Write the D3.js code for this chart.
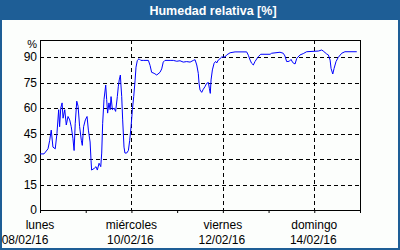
<!DOCTYPE html>
<html>
<head>
<meta charset="utf-8">
<script src="https://cdn.jsdelivr.net/npm/d3@7"></script>
<style>
  body { margin: 0; background: #fff; }
  svg { display: block; }
  text { font-family: "Liberation Sans", Arial, sans-serif; fill: #000; }
</style>
</head>
<body>
<div id="chart"></div>
<script>
// hours since 08/02/16 00:00 and relative humidity (%)
const hours = [0, 2.1, 4.2, 5.1, 5.9, 6.8, 8.0, 8.9, 9.8, 10.3, 10.9, 11.6, 12.1, 13.0, 13.8, 14.7, 15.6, 16.4, 17.3, 17.9,
  18.5, 19.3, 20.0, 20.8, 21.7, 22.2, 22.9, 23.8, 24.7, 25.4, 26.3, 26.8, 27.1, 28.5, 29.4, 30.1, 31.0, 31.9, 32.4, 32.9,
  33.6, 34.5, 35.0, 35.5, 36.2, 36.8, 37.3, 38.0, 38.9, 39.7, 40.6, 41.1, 41.6, 42.2, 42.5, 42.9, 43.4, 44.1, 44.6, 45.5,
  46.4, 47.1, 47.8, 48.5, 49.2, 49.9, 50.4, 51.1, 52.0, 52.9, 54.2, 56.9, 57.8, 58.6, 59.9, 61.3, 63.0, 63.9, 64.7, 65.6,
  68.3, 70.0, 71.8, 73.5, 75.2, 77.0, 78.8, 80.5, 81.4, 82.3, 83.1, 83.5, 84.0, 84.9, 85.7, 86.6, 87.5, 88.4, 88.9, 89.4,
  89.8, 90.5, 91.4, 92.2, 92.8, 93.6, 94.5, 95.4, 97.1, 98.0, 99.8, 102.4, 108.5, 109.4, 110.3, 111.1, 112.0, 112.9, 114.6, 115.9,
  120.8, 121.6, 126.0, 127.7, 128.6, 129.5, 130.9, 131.8, 132.7, 133.9, 134.8, 136.5, 138.2, 140.0, 146.1, 147.9, 148.7, 150.5, 151.4, 152.3,
  152.8, 153.7, 154.4, 155.4, 156.6, 158.4, 160.1, 166.3];
const humidity = [33, 33, 36, 41, 47, 37, 36, 45, 59, 49, 60, 63, 54, 59, 50, 55, 53, 49, 42, 35,
  51, 64, 61, 49, 41, 38, 49, 53, 55, 47, 40, 29, 23.5, 24.5, 25.5, 23.5, 27.5, 25.5, 33.5, 51,
  65, 73.5, 65, 57, 63, 59, 66.7, 59, 60, 58, 66.7, 72.5, 76.5, 79.4, 73.5, 66.7, 53, 37, 33.5, 33.5,
  35, 41, 49, 59, 66.7, 76, 84, 88, 89, 88, 88, 88, 85, 81, 80.4, 79.4, 81, 83, 87, 88,
  88, 88, 87.5, 87.8, 87, 87.3, 87, 88, 88.4, 85.3, 80.4, 74.5, 70.6, 69.2, 71, 72.5, 74.5, 75, 71.6, 68.6,
  76.5, 82.4, 86.3, 87.4, 86.5, 88.2, 89, 90, 90, 91.2, 92.5, 93, 93, 91, 88.2, 86.3, 85.3, 87.4, 90.2, 91.6,
  91.6, 92.2, 92.8, 92.2, 90.6, 87.3, 87.5, 88.6, 86.7, 85.9, 89.2, 91.2, 92, 93.1, 93.5, 94.1, 93.5, 91.8, 91.2, 88.2,
  83.3, 80, 83.3, 87.3, 89.8, 92.2, 93.1, 93.1];

const yTicks = [0, 15, 30, 45, 60, 75, 90];
const dayNames = ["lunes", "miércoles", "viernes", "domingo"];
const dateLabels = ["08/02/16", "10/02/16", "12/02/16", "14/02/16"];

const W = 400, H = 250;
const blue = "#1e5e96";
const start = new Date(2016, 1, 8);
const end = new Date(2016, 1, 15);
const toDate = h => new Date(start.getTime() + h * 3600e3);

const svg = d3.select("#chart").append("svg")
    .attr("width", W)
    .attr("height", H);

// frame + title bar
svg.append("rect").attr("x", 1).attr("y", 1).attr("width", W - 2).attr("height", H - 2)
    .attr("fill", "#fcfefc").attr("stroke", blue).attr("stroke-width", 2);
svg.append("rect").attr("x", 0).attr("y", 0).attr("width", W).attr("height", 20).attr("fill", blue);
svg.append("text")
    .attr("x", 213).attr("y", 15)
    .attr("text-anchor", "middle")
    .style("font-size", "12.5px").style("font-weight", "bold").style("fill", "#fff")
    .text("Humedad relativa [%]");

const plot = { left: 40, top: 40, right: 360, bottom: 210 };

const x = d3.scaleTime().domain([start, end]).range([plot.left, plot.right]);
const y = d3.scaleLinear().domain([0, 100]).range([plot.bottom, plot.top]);

// horizontal dashed grid
svg.append("g").selectAll("line")
    .data(yTicks.filter(d => d > 0))
    .enter().append("line")
    .attr("x1", plot.left).attr("x2", plot.right)
    .attr("y1", d => Math.round(y(d)) + 0.5).attr("y2", d => Math.round(y(d)) + 0.5)
    .attr("stroke", "#000").attr("stroke-dasharray", "4,3");

// vertical dashed grid on labelled days
const labelDays = d3.timeDay.range(start, end, 2);
svg.append("g").selectAll("line")
    .data(labelDays.slice(1))
    .enter().append("line")
    .attr("x1", d => Math.round(x(d)) + 0.5).attr("x2", d => Math.round(x(d)) + 0.5)
    .attr("y1", plot.top).attr("y2", plot.bottom)
    .attr("stroke", "#000").attr("stroke-dasharray", "4,3");

// y labels
svg.append("g").selectAll("text")
    .data(yTicks)
    .enter().append("text")
    .attr("x", 37).attr("y", d => y(d) + 4)
    .attr("text-anchor", "end")
    .style("font-size", "12px")
    .text(d => d);
svg.append("text").attr("x", 37).attr("y", 47.5).attr("text-anchor", "end")
    .style("font-size", "11px").text("%");

// x axis ticks (every day)
const xAxis = d3.axisBottom(x)
    .ticks(d3.timeDay.every(1))
    .tickSize(3)
    .tickFormat("");
svg.append("g")
    .attr("transform", `translate(0,${plot.bottom})`)
    .call(xAxis)
    .call(g => g.select(".domain").remove());

// x labels
const xl = svg.append("g").selectAll("g")
    .data(labelDays)
    .enter().append("g");
xl.append("text")
    .attr("x", d => x(d)).attr("y", 229)
    .attr("text-anchor", "middle")
    .style("font-size", "12px")
    .text((d, i) => dayNames[i]);
xl.append("text")
    .attr("x", (d, i) => i === 0 ? 25 : x(d) - 1).attr("y", 244)
    .attr("text-anchor", "middle")
    .style("font-size", "12px")
    .text((d, i) => dateLabels[i]);

// plot border
svg.append("rect")
    .attr("x", plot.left + 0.5).attr("y", plot.top + 0.5)
    .attr("width", plot.right - plot.left).attr("height", plot.bottom - plot.top)
    .attr("fill", "none").attr("stroke", "#000");

// humidity line
const line = d3.line()
    .x((d, i) => x(toDate(hours[i])))
    .y(d => y(d));
svg.append("path")
    .datum(humidity)
    .attr("d", line)
    .attr("fill", "none")
    .attr("stroke", "#0000ff")
    .attr("stroke-width", 1);
</script>
</body>
</html>
